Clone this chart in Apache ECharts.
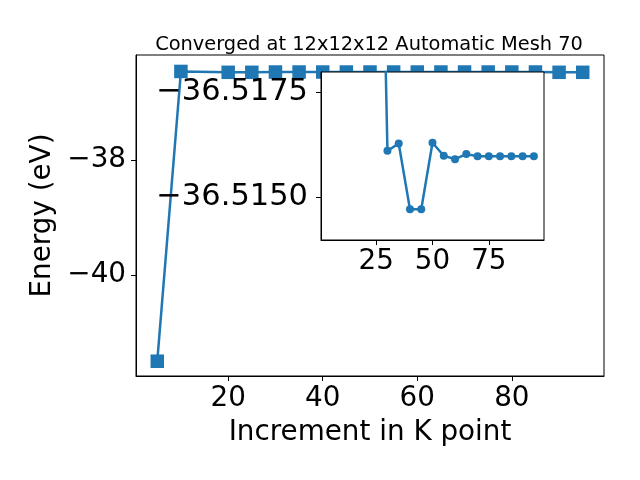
<!DOCTYPE html>
<html>
<head>
<meta charset="utf-8">
<script src="https://cdn.jsdelivr.net/npm/echarts@6/dist/echarts.min.js"></script>
<style>html,body{margin:0;padding:0;background:#fff}#c{width:640px;height:480px}</style>
</head>
<body>
<div id="c"></div>
<script>
// main plot
const kPoints = [5, 10, 20, 25, 30, 35, 40, 45, 50, 55, 60, 65, 70, 75, 80, 85, 90, 95];
const energies = [-41.50, -36.46, -36.475, -36.475, -36.47, -36.47, -36.47, -36.47, -36.47, -36.47, -36.47, -36.47, -36.47, -36.47, -36.47, -36.47, -36.475, -36.475];
// inset (zoomed view)
const insetK = [25, 30, 35, 40, 45, 50, 55, 60, 65, 70, 75, 80, 85, 90, 95];
const insetEnergies = [-36.5287, -36.51610, -36.51627, -36.51471, -36.51471, -36.51629, -36.51598, -36.51590, -36.51602, -36.51597, -36.51597, -36.51597, -36.51597, -36.51597, -36.51597];
const mainXTicks = [20, 40, 60, 80];
const mainYTicks = [-40, -38];
const insetXTicks = [25, 50, 75];
const insetYTicks = [-36.5175, -36.5150];
const titleText = 'Converged at 12x12x12 Automatic Mesh 70';
const xName = 'Increment in K point';
const yName = 'Energy (eV)';

const mainPts = kPoints.map((k, i) => [k, energies[i]]);
const insetPts = insetK.map((k, i) => [k, insetEnergies[i]]);
const minus = s => String(s).replace('-', '\u2212');
const FONT = 'DejaVu Sans';
const FS = 27.8;
const C = '#1f77b4';

const chart = echarts.init(document.getElementById('c'), null, {renderer: 'canvas'});
chart.setOption({
  animation: false,
  backgroundColor: '#fff',
  title: {
    text: titleText, left: 364, top: 30, textAlign: 'center',
    textStyle: {fontFamily: FONT, fontSize: 19.4, fontWeight: 'normal', color: '#000'}
  },
  grid: [
    {left: 136, right: 36, top: 55, bottom: 104, show: true, borderColor: '#000', borderWidth: 1, z: 0},
    {left: 321, top: 72, width: 223, height: 168, show: true, borderColor: '#000', borderWidth: 1, backgroundColor: '#fff', z: 10}
  ],
  xAxis: [
    {
      type: 'value', gridIndex: 0, min: 0.5, max: 99.5,
      name: xName, nameLocation: 'middle', nameGap: 43,
      nameTextStyle: {fontFamily: FONT, fontSize: FS, color: '#000'},
      axisLine: {show: true, lineStyle: {color: '#000', width: 1}},
      axisTick: {show: true, length: 5, lineStyle: {color: '#000'}, customValues: mainXTicks},
      axisLabel: {fontFamily: FONT, fontSize: FS, color: '#000', margin: 9, customValues: mainXTicks, formatter: v => minus(v)},
      splitLine: {show: false}
    },
    {
      type: 'value', gridIndex: 1, min: 0.5, max: 99.5, z: 11,
      axisLine: {show: true, lineStyle: {color: '#000', width: 1}},
      axisTick: {show: true, length: 5, lineStyle: {color: '#000'}, customValues: insetXTicks},
      axisLabel: {fontFamily: FONT, fontSize: FS, color: '#000', margin: 8, customValues: insetXTicks, formatter: v => minus(v)},
      splitLine: {show: false}
    }
  ],
  yAxis: [
    {
      type: 'value', gridIndex: 0, min: -41.757, max: -36.174,
      name: yName, nameLocation: 'middle', nameGap: 72,
      nameTextStyle: {fontFamily: FONT, fontSize: FS, color: '#000'},
      axisLine: {show: true, lineStyle: {color: '#000', width: 1}},
      axisTick: {show: true, length: 5, lineStyle: {color: '#000'}, customValues: mainYTicks},
      axisLabel: {fontFamily: FONT, fontSize: FS, color: '#000', margin: 10, customValues: mainYTicks, formatter: v => minus(v)},
      splitLine: {show: false}
    },
    {
      type: 'value', gridIndex: 1, inverse: true, min: -36.51797, max: -36.51398, z: 11,
      axisLine: {show: true, lineStyle: {color: '#000', width: 1}},
      axisTick: {show: true, length: 5, lineStyle: {color: '#000'}, customValues: insetYTicks},
      axisLabel: {fontFamily: FONT, fontSize: 30.5, color: '#000', margin: 13, customValues: insetYTicks, formatter: v => minus(Number(v).toFixed(4))},
      splitLine: {show: false}
    }
  ],
  series: [
    {
      type: 'line', xAxisIndex: 0, yAxisIndex: 0, data: mainPts, z: 2,
      symbol: 'rect', symbolSize: 13.5,
      lineStyle: {color: C, width: 2.5}, itemStyle: {color: C}
    },
    {
      type: 'line', xAxisIndex: 1, yAxisIndex: 1, data: insetPts, z: 12, clip: true,
      symbol: 'circle', symbolSize: 8,
      lineStyle: {color: C, width: 2.5}, itemStyle: {color: C}
    }
  ]
});
</script>
</body>
</html>
